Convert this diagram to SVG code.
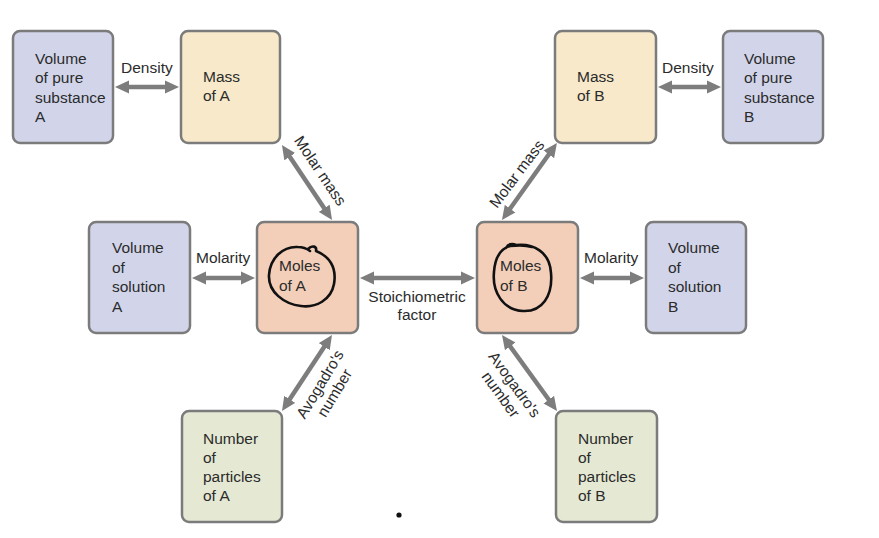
<svg xmlns="http://www.w3.org/2000/svg" width="879" height="538" viewBox="0 0 879 538">
<defs>
<marker id="ah" viewBox="0 0 14 14" markerWidth="14" markerHeight="14" refX="6" refY="7" orient="auto-start-reverse" markerUnits="userSpaceOnUse">
<path d="M0,0.5 L14,7 L0,13.5 z" fill="#7d7d7d"/>
</marker>
</defs>
<style>
.box{stroke:#7b7b7b;stroke-width:2.5}
.vol{fill:#d2d5ea}
.mass{fill:#f7e9ca}
.mol{fill:#f3cfba}
.num{fill:#e5e9d3}
text{font-family:"Liberation Sans",Arial,sans-serif;font-size:15.5px;fill:#2b2b2b}
.c{text-anchor:middle}
.arr{stroke:#7d7d7d;stroke-width:4.5;fill:none;marker-start:url(#ah);marker-end:url(#ah)}
.hand{fill:none;stroke:#111;stroke-width:2.6;stroke-linecap:round;stroke-linejoin:round}
</style>
<rect width="879" height="538" fill="#fff"/>
<g id="volA">
<rect class="box vol" x="13" y="31" width="100" height="112" rx="7"/>
<text x="35" y="64">Volume</text><text x="35" y="83">of pure</text><text x="35" y="103">substance</text><text x="35" y="122">A</text>
</g>
<g id="massA">
<rect class="box mass" x="181" y="31" width="99" height="112" rx="7"/>
<text x="203" y="82">Mass</text><text x="203" y="101">of A</text>
</g>
<g id="massB">
<rect class="box mass" x="555" y="31" width="101" height="112" rx="7"/>
<text x="577" y="82">Mass</text><text x="577" y="101">of B</text>
</g>
<g id="volB">
<rect class="box vol" x="723" y="31" width="100" height="112" rx="7"/>
<text x="744" y="64">Volume</text><text x="744" y="83">of pure</text><text x="744" y="103">substance</text><text x="744" y="122">B</text>
</g>
<g id="solA">
<rect class="box vol" x="89" y="222" width="101" height="111" rx="7"/>
<text x="112" y="253">Volume</text><text x="112" y="273">of</text><text x="112" y="292">solution</text><text x="112" y="312">A</text>
</g>
<g id="molesA">
<rect class="box mol" x="257" y="222" width="101" height="111" rx="7"/>
<text x="279" y="271">Moles</text><text x="279" y="291">of A</text>
</g>
<g id="molesB">
<rect class="box mol" x="477" y="222" width="101" height="111" rx="7"/>
<text x="500" y="271">Moles</text><text x="500" y="291">of B</text>
</g>
<g id="solB">
<rect class="box vol" x="646" y="222" width="100" height="111" rx="7"/>
<text x="668" y="253">Volume</text><text x="668" y="273">of</text><text x="668" y="292">solution</text><text x="668" y="312">B</text>
</g>
<g id="partA">
<rect class="box num" x="182" y="411" width="100" height="111" rx="7"/>
<text x="203" y="444">Number</text><text x="203" y="463">of</text><text x="203" y="482">particles</text><text x="203" y="501">of A</text>
</g>
<g id="partB">
<rect class="box num" x="556" y="411" width="101" height="111" rx="7"/>
<text x="578" y="444">Number</text><text x="578" y="463">of</text><text x="578" y="482">particles</text><text x="578" y="501">of B</text>
</g>
<g id="connectors">
<line class="arr" x1="123" y1="87" x2="171" y2="87"/>
<line class="arr" x1="666" y1="87" x2="713" y2="87"/>
<line class="arr" x1="200" y1="278" x2="247" y2="278"/>
<line class="arr" x1="368" y1="278" x2="467" y2="278"/>
<line class="arr" x1="588" y1="278" x2="636" y2="278"/>
<line class="arr" x1="286.4" y1="151.7" x2="327.6" y2="213.3"/>
<line class="arr" x1="552.3" y1="149.5" x2="506.6" y2="213.5"/>
<line class="arr" x1="327.6" y1="341.7" x2="286.4" y2="404.3"/>
<line class="arr" x1="506.7" y1="341.5" x2="552.3" y2="404.5"/>
<text x="121" y="73">Density</text>
<text x="662" y="73">Density</text>
<text x="196" y="263">Molarity</text>
<text x="584" y="263">Molarity</text>
<text class="c" x="417" y="302">Stoichiometric</text>
<text class="c" x="417" y="320">factor</text>
<g transform="translate(320,171) rotate(56)"><text class="c" x="0" y="5">Molar mass</text></g>
<g transform="translate(517,174) rotate(-53)"><text class="c" x="0" y="5">Molar mass</text></g>
<g transform="translate(328,389) rotate(-59)"><text class="c" x="0" y="-4">Avogadro's</text><text class="c" x="0" y="13">number</text></g>
<g transform="translate(507,390) rotate(54)"><text class="c" x="0" y="-4">Avogadro's</text><text class="c" x="0" y="13">number</text></g>
</g>
<g id="handwriting">
<path class="hand" d="M308,249 C312,245 317,246 316,251 C329,256 337,267 334,284 C331,300 316,308 301,306 C284,304 268,292 269,275 C270,258 283,246 298,247 C302,247 306,248 310,251"/>
<path class="hand" d="M506,248 C508,244 512,243 516,245 C533,243 550,252 551,273 C553,296 542,312 523,311 C503,310 492,292 494,272 C495,258 500,249 510,246 C518,245 526,245 532,247"/>
<circle cx="399" cy="515" r="2.6" fill="#111"/>
</g>
</svg>
